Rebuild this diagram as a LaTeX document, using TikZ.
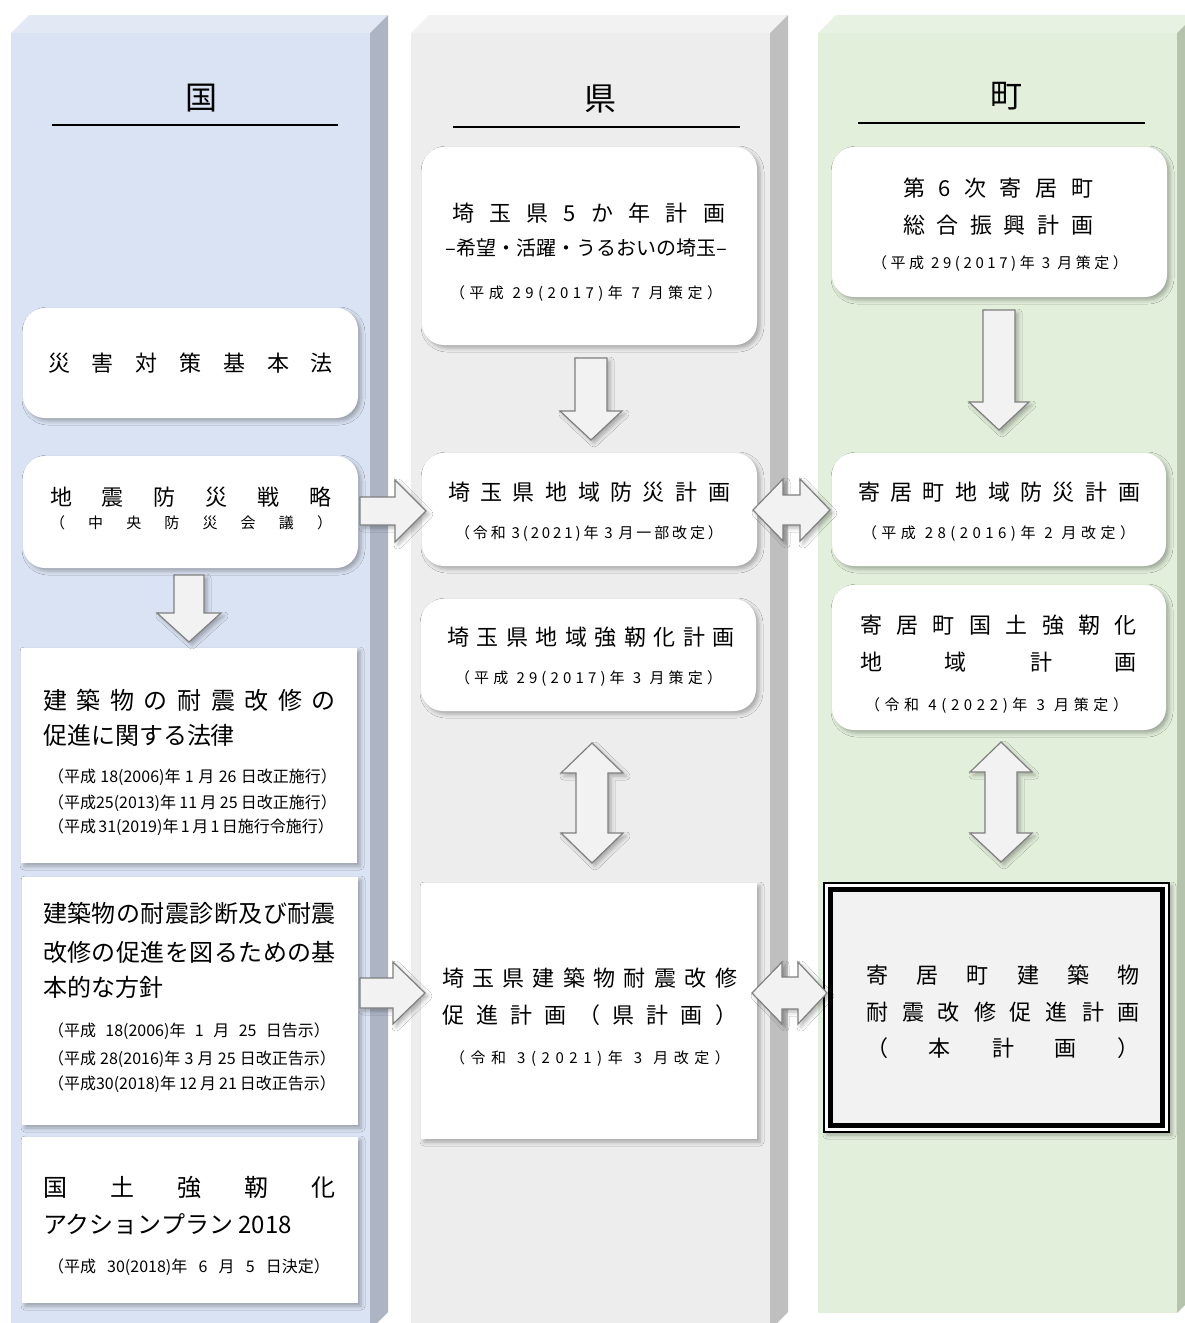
\documentclass[tikz,border=0pt]{standalone}
\usepackage{fontspec}
\setmainfont{Noto Sans CJK JP}
\usetikzlibrary{shadows.blur}
\definecolor{cAfront}{HTML}{DAE3F3}
\definecolor{cAtop}{HTML}{E2E9F5}
\definecolor{cAside}{HTML}{ADB5C5}
\definecolor{cBfront}{HTML}{EDEDED}
\definecolor{cBtop}{HTML}{F2F2F2}
\definecolor{cBside}{HTML}{BFBFBF}
\definecolor{cCfront}{HTML}{E2EFDA}
\definecolor{cCtop}{HTML}{E8F2E2}
\definecolor{cCside}{HTML}{B5C3AC}
\definecolor{afill}{HTML}{F2F2F2}
\definecolor{adraw}{HTML}{808080}
\makeatletter
\def\spr#1{\spr@a#1\spr@end}
\def\spr@a#1{#1\spr@b}
\def\spr@b#1{\ifx#1\spr@end\else\hfill#1\expandafter\spr@b\fi}
\def\spr@end{\spr@end@marker}
\makeatother
\newcommand\sprd[2]{\makebox[#1pt][s]{\spr{#2}}}
\newcommand\tline[5]{\node[tnode, font=\fontsize{#4pt}{#4pt}\selectfont] (#1) at (#2,{#3+0.38*#4}) {#5};}
\newcommand\blkdown[6]{\draw[barrow] ({#1-#5},#2) -- ({#1+#5},#2) -- ({#1+#5},#3) -- ({#1+#6},#3) -- (#1,#4) -- ({#1-#6},#3) -- ({#1-#5},#3) -- cycle;}
\newcommand\blkright[6]{\draw[barrow] (#2,{#1-#5}) -- (#3,{#1-#5}) -- (#3,{#1-#6}) -- (#4,#1) -- (#3,{#1+#6}) -- (#3,{#1+#5}) -- (#2,{#1+#5}) -- cycle;}
\newcommand\blkhdouble[7]{\draw[barrow] (#2,#1) -- (#3,{#1-#7}) -- (#3,{#1-#6}) -- (#4,{#1-#6}) -- (#4,{#1-#7}) -- (#5,#1) -- (#4,{#1+#7}) -- (#4,{#1+#6}) -- (#3,{#1+#6}) -- (#3,{#1+#7}) -- cycle;}
\newcommand\blkvdouble[7]{\draw[barrow] (#1,#2) -- ({#1+#7},#3) -- ({#1+#6},#3) -- ({#1+#6},#4) -- ({#1+#7},#4) -- (#1,#5) -- ({#1-#7},#4) -- ({#1-#6},#4) -- ({#1-#6},#3) -- ({#1-#7},#3) -- cycle;}
\tikzset{
  softsh/.style={blur shadow={shadow xshift=3pt, shadow yshift=-3pt, shadow blur radius=4pt, shadow opacity=30}},
  rbox/.style={fill=white, rounded corners=22pt, softsh, inner sep=0pt},
  sbox/.style={fill=white, softsh, inner sep=0pt},
  tnode/.style={inner sep=0pt, anchor=base},
  barrow/.style={fill=afill, draw=adraw, line width=1.2pt, line join=miter, softsh},
  uline/.style={line width=2pt, black},
}
\begin{document}
\begin{tikzpicture}[x=1pt,y=-1pt]
\useasboundingbox (0,0) rectangle (1185,1323);
\clip (0,0) rectangle (1185,1323);
\fill[white] (0,0) rectangle (1185,1323);
% columns
\fill[cAtop] (11,33) -- (29,15) -- (388,15) -- (370,33) -- cycle;
\fill[cAside] (370,33) -- (388,15) -- (388,1312) -- (370,1330) -- cycle;
\fill[cAfront] (11,33) rectangle (370,1330);
\fill[cBtop] (411,33) -- (429,15) -- (788,15) -- (770,33) -- cycle;
\fill[cBside] (770,33) -- (788,15) -- (788,1312) -- (770,1330) -- cycle;
\fill[cBfront] (411,33) rectangle (770,1330);
\fill[cCtop] (818,33) -- (836,15) -- (1195,15) -- (1177,33) -- cycle;
\fill[cCside] (1177,33) -- (1195,15) -- (1195,1295) -- (1177,1313) -- cycle;
\fill[cCfront] (818,33) rectangle (1177,1313);
% titles
\tline{tA}{201}{97}{32}{国}
\coordinate (uA1) at (52,125); \coordinate (uA2) at (338,125);
\draw[uline] (uA1) -- (uA2);
\tline{tB}{600}{98}{32}{県}
\coordinate (uB1) at (453,127); \coordinate (uB2) at (740,127);
\draw[uline] (uB1) -- (uB2);
\tline{tC}{1006}{95}{32}{町}
\coordinate (uC1) at (858,123); \coordinate (uC2) at (1145,123);
\draw[uline] (uC1) -- (uC2);
% boxes column 1
\node[rbox, minimum width=335pt, minimum height=110pt] (b1) at (190.5,363) {};
\node[rbox, minimum width=335pt, minimum height=112pt] (b2) at (190.5,512) {};
\node[sbox, minimum width=336pt, minimum height=215pt] (b3) at (189,755.5) {};
\node[sbox, minimum width=336pt, minimum height=248pt] (b4) at (190,1001) {};
\node[sbox, minimum width=336pt, minimum height=166pt] (b5) at (190,1220) {};
% boxes column 2
\node[rbox, minimum width=335pt, minimum height=198pt] (c1) at (589.5,246) {};
\node[rbox, minimum width=335pt, minimum height=113pt] (c2) at (589.5,509.5) {};
\node[rbox, minimum width=335pt, minimum height=112pt] (c3) at (588.5,655) {};
\node[sbox, minimum width=336pt, minimum height=256pt] (c4) at (589,1011) {};
% boxes column 3
\node[rbox, minimum width=335pt, minimum height=150pt] (d1) at (999.5,222) {};
\node[rbox, minimum width=334pt, minimum height=113pt] (d2) at (999,509.5) {};
\node[rbox, minimum width=334pt, minimum height=145pt] (d3) at (999,657.5) {};
\node[draw=black, line width=1.2pt, fill=white, softsh, minimum width=345pt, minimum height=249pt, inner sep=0pt] (d4) at (996.5,1007.5) {};
\draw[line width=5.5pt, fill=afill] ([xshift=7pt,yshift=-7pt]d4.north west) rectangle ([xshift=-7pt,yshift=7pt]d4.south east);
% arrows
\blkdown{189}{575}{613}{642}{15}{32}
\blkdown{591}{358}{411}{440}{16}{31}
\blkdown{999}{310}{402}{430}{16}{30}
\blkright{511}{360}{395}{426}{14}{31}
\blkright{993}{360}{393}{425}{15}{31}
\blkhdouble{510}{753}{783}{800}{830}{15}{31}
\blkhdouble{993}{752}{782}{798}{827}{16}{31}
\blkvdouble{592}{743}{773}{833}{863}{16}{31}
\blkvdouble{1001}{742}{772}{833}{862}{16}{31}
% texts column 1
\tline{b1t}{190.5}{363}{22}{\sprd{285}{災害対策基本法}}
\tline{b2t1}{191}{497}{22}{\sprd{282}{地震防災戦略}}
\tline{b2t2}{191}{523}{15}{\sprd{282}{（中央防災会議）}}
\tline{b3t1}{189.5}{700}{24}{\sprd{293}{建築物の耐震改修の}}
\tline{b3t2}{189.5}{735}{24}{\makebox[293pt][l]{促進に関する法律}}
\tline{b3t3}{192.5}{776}{16}{\makebox[289pt][s]{（平成 18(2006)年 1 月 26 日改正施行）}}
\tline{b3t4}{192.5}{802}{16}{\makebox[289pt][s]{（平成25(2013)年 11 月 25 日改正施行）}}
\tline{b3t5}{191}{826}{16}{\makebox[286pt][s]{（平成 31(2019)年 1 月 1 日施行令施行）}}
\tline{b4t1}{189.5}{913}{24}{\sprd{293}{建築物の耐震診断及び耐震}}
\tline{b4t2}{189.5}{952}{24}{\sprd{293}{改修の促進を図るための基}}
\tline{b4t3}{189.5}{987}{24}{\makebox[293pt][l]{本的な方針}}
\tline{b4t4}{189}{1030}{16}{\makebox[282pt][s]{（平成 18(2006)年 1 月 25 日告示）}}
\tline{b4t5}{192}{1058}{16}{\makebox[288pt][s]{（平成 28(2016)年 3 月 25 日改正告示）}}
\tline{b4t6}{192}{1083}{16}{\makebox[288pt][s]{（平成30(2018)年 12 月 21 日改正告示）}}
\tline{b5t1}{189.5}{1187}{24}{\sprd{293}{国土強靭化}}
\tline{b5t2}{189.5}{1224}{24}{\makebox[293pt][l]{アクションプラン 2018}}
\tline{b5t3}{189}{1266}{16}{\makebox[282pt][s]{（平成 30(2018)年 6 月 5 日決定）}}
% texts column 2
\tline{c1t1}{588.5}{213}{22}{\sprd{273}{埼玉県5か年計画}}
\tline{c1t2}{586}{248}{20}{–希望・活躍・うるおいの埼玉–}
\tline{c1t3}{586}{293}{15}{\sprd{272}{（平成\relax 29(2017)年\relax 7\relax 月策定）}}
\tline{c2t1}{589}{492}{22}{\sprd{282}{埼玉県地域防災計画}}
\tline{c2t2}{589}{533}{15}{\sprd{268}{（令和\relax 3(2021)年\relax 3\relax 月一部改定）}}
\tline{c3t1}{591}{637}{22}{\sprd{288}{埼玉県地域強靭化計画}}
\tline{c3t2}{588.5}{678}{15}{\sprd{267}{（平成\relax 29(2017)年\relax 3\relax 月策定）}}
\tline{c4t1}{589.5}{978}{22}{\sprd{295}{埼玉県建築物耐震改修}}
\tline{c4t2}{589.5}{1015}{22}{\sprd{295}{促進計画（県計画）}}
\tline{c4t3}{590}{1058}{15}{\sprd{280}{（令和\relax 3(2021)年\relax 3\relax 月改定）}}
% texts column 3
\tline{d1t1}{998}{188}{22}{\sprd{190}{第6次寄居町}}
\tline{d1t2}{998}{225}{22}{\sprd{190}{総合振興計画}}
\tline{d1t3}{1000}{263}{15}{\sprd{256}{（平成\relax 29(2017)年\relax 3\relax 月策定）}}
\tline{d2t1}{999}{492}{22}{\sprd{282}{寄居町地域防災計画}}
\tline{d2t2}{998.5}{533}{15}{\sprd{273}{（平成\relax 28(2016)年\relax 2\relax 月改定）}}
\tline{d3t1}{998.5}{625}{22}{\sprd{277}{寄居町国土強靭化}}
\tline{d3t2}{998.5}{662}{22}{\sprd{277}{地域計画}}
\tline{d3t3}{996.5}{705}{15}{\sprd{263}{（令和\relax 4(2022)年\relax 3\relax 月策定）}}
\tline{d4t1}{1003}{975}{22}{\sprd{274}{寄居町建築物}}
\tline{d4t2}{1003}{1012}{22}{\sprd{274}{耐震改修促進計画}}
\tline{d4t3}{1003}{1048}{22}{\sprd{274}{（本計画）}}
\end{tikzpicture}
\end{document}
